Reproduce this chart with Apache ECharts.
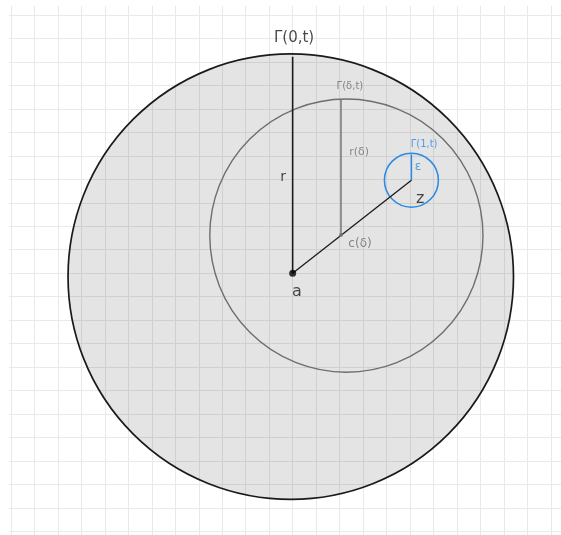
<!DOCTYPE html>
<html>
<head>
<meta charset="utf-8">
<script src="https://cdn.jsdelivr.net/npm/echarts@6/dist/echarts.min.js"></script>
<style>html,body{margin:0;padding:0;background:#fff}#c{width:561px;height:535px}</style>
</head>
<body>
<div id="c"></div>
<script>
// ---- data (grid units: 1 unit = one paper square) ----
const circleNames = ['Γ(0,t)', 'Γ(δ,t)', 'Γ(1,t)'];
const circleX = [11.92, 14.29, 17.06];
const circleY = [10.85, 12.60, 14.96];
const circleR = [9.49, 5.82, 1.15];

const segmentNames = ['r', 'r(δ)', 'ε', 'a–z'];
const segmentFrom = [[12, 11], [14.06, 12.63], [17.06, 14.96], [12, 11]];
const segmentTo = [[12, 20.22], [14.06, 18.38], [17.06, 16.06], [17.06, 14.96]];

const pointNames = ['a', 'c(δ)'];
const pointXY = [[12, 11], [14.06, 12.63]];

const labelTexts = ['Γ(0,t)', 'Γ(δ,t)', 'Γ(1,t)', 'ε', 'z', 'r(δ)', 'c(δ)', 'r', 'a'];
const labelX = [12.06, 14.44, 17.60, 17.34, 17.43, 14.83, 14.87, 11.59, 12.18];
const labelY = [21.02, 18.97, 16.50, 15.52, 14.16, 16.16, 12.24, 15.10, 10.20];

// ---- styles ----
const U = 23.47;
const BLACK = '#1a1a1a', GREY = '#6e6e6e', BLUE = '#2a8be6';
const circleStroke = [BLACK, GREY, BLUE];
const circleWidth = [1.7, 1.4, 1.5];
const circleFill = ['rgba(0,0,0,0.105)', 'transparent', 'transparent'];
const segColor = [BLACK, GREY, BLUE, BLACK];
const segWidth = [1.6, 1.4, 1.5, 1.3];
const labelColor = [BLACK, GREY, BLUE, BLUE, BLACK, GREY, GREY, BLACK, BLACK];
const labelSize = [15, 10, 10, 12, 16, 11, 12, 14, 16];

const chart = echarts.init(document.getElementById('c'), null, {renderer: 'canvas'});
const gridLine = {show: true, lineStyle: {color: '#e9e9e9', width: 1}};
const hidden = {show: false};

const series = [];
// circles
series.push({
  type: 'custom', xAxisIndex: 1, yAxisIndex: 1, z: 2, clip: false,
  data: circleNames.map((n, i) => [circleX[i], circleY[i], circleR[i], i]),
  renderItem: function (params, api) {
    const i = api.value(3);
    const c = api.coord([api.value(0), api.value(1)]);
    const r = api.size([api.value(2), api.value(2)])[0];
    return {
      type: 'circle',
      shape: {cx: c[0], cy: c[1], r: r},
      style: {fill: circleFill[i], stroke: circleStroke[i], lineWidth: circleWidth[i]}
    };
  },
  silent: true
});
// segments
segmentNames.forEach((n, i) => {
  series.push({
    type: 'line', name: n, xAxisIndex: 1, yAxisIndex: 1, z: 3,
    data: [segmentFrom[i], segmentTo[i]],
    symbol: 'none', lineStyle: {color: segColor[i], width: segWidth[i]},
    silent: true, animation: false
  });
});
// points
series.push({
  type: 'scatter', xAxisIndex: 1, yAxisIndex: 1, z: 4,
  data: pointXY,
  symbolSize: function (v, p) { return p.dataIndex === 0 ? 7 : 4; },
  itemStyle: {color: function (p) { return p.dataIndex === 0 ? '#000' : '#777'; }},
  silent: true
});
// labels
series.push({
  type: 'scatter', xAxisIndex: 1, yAxisIndex: 1, z: 5,
  data: labelTexts.map((t, i) => ({value: [labelX[i], labelY[i]], name: t,
    label: {color: labelColor[i], fontSize: labelSize[i]}})),
  symbolSize: 0,
  label: {show: true, position: 'inside', formatter: '{b}', fontFamily: 'DejaVu Sans', fontWeight: 'normal'},
  silent: true
});

chart.setOption({
  animation: false,
  backgroundColor: '#ffffff',
  grid: [
    {left: 11, right: 561 - (11 + 23 * U), top: 6, bottom: 0},
    {left: 9, right: 0, top: 15, bottom: 535 - 15 - 22 * U}
  ],
  xAxis: [
    {type: 'value', gridIndex: 0, min: 0, max: 23, interval: 1,
     axisLine: hidden, axisTick: hidden, axisLabel: hidden, splitLine: gridLine},
    {type: 'value', gridIndex: 1, min: -2 / U, max: -2 / U + 552 / U,
     axisLine: hidden, axisTick: hidden, axisLabel: hidden, splitLine: hidden}
  ],
  yAxis: [
    {type: 'value', gridIndex: 0, min: 0, max: 1,
     axisLine: hidden, axisTick: hidden, axisLabel: hidden, splitLine: hidden},
    {type: 'value', gridIndex: 1, min: 0, max: 22, interval: 1,
     axisLine: hidden, axisTick: hidden, axisLabel: hidden, splitLine: gridLine}
  ],
  series: series
});
</script>
</body>
</html>
